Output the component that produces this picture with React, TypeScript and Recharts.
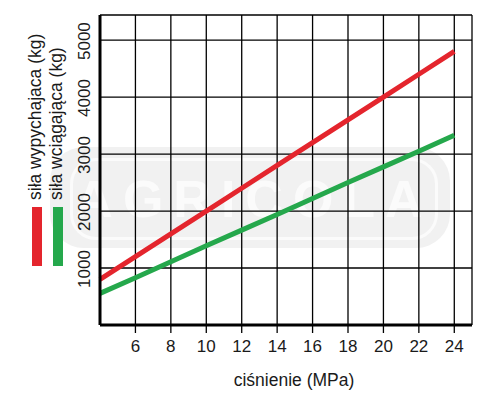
import { LineChart, Line, XAxis, YAxis, CartesianGrid } from 'recharts'

// ciśnienie (MPa)
const pressure = [4, 6, 8, 10, 12, 14, 16, 18, 20, 22, 24]
// siła wypychająca (kg)
const pushForce = [800, 1200, 1600, 2000, 2400, 2800, 3200, 3600, 4000, 4400, 4800]
// siła wciągająca (kg)
const pullForce = [555, 830, 1110, 1390, 1665, 1940, 2220, 2500, 2775, 3050, 3330]

const xTicks = [6, 8, 10, 12, 14, 16, 18, 20, 22, 24]
const yTicks = [1000, 2000, 3000, 4000, 5000]

const data = pressure.map((p, i) => ({ p, push: pushForce[i], pull: pullForce[i] }))

const FONT = '"Liberation Sans", Arial, sans-serif'
const RED = '#e4252d'
const GREEN = '#25a84c'
const INK = '#1a1a1a'

function YTick({ y, payload }: any) {
  return (
    <text
      x={90}
      y={y + 1}
      transform={`rotate(-90, 90, ${y + 1})`}
      textAnchor="middle"
      fontSize={17}
      fill={INK}
      fontFamily={FONT}
    >
      {payload.value}
    </text>
  )
}

export default function App() {
  return (
    <div style={{ position: 'absolute', left: 0, top: 0, width: 500, height: 397, background: '#fff', fontFamily: FONT }}>
      {/* faint watermark */}
      <div
        style={{
          position: 'absolute', left: 50, top: 147, width: 400, height: 101,
          borderRadius: 34, background: '#f1f1f1',
        }}
      >
        <div
          style={{
            position: 'absolute', left: 20, top: 11, width: 362, height: 76,
            borderRadius: 26, border: '3px solid #fbfbfb', color: '#fbfbfb',
            fontSize: 52, fontWeight: 700, letterSpacing: 10, textAlign: 'center',
            lineHeight: '76px', fontFamily: FONT,
          }}
        >
          AGRICOLA
        </div>
      </div>

      <div style={{ position: 'absolute', left: 0, top: 0 }}>
        <LineChart width={500} height={397} data={data} margin={{ top: 15, right: 28, bottom: 0, left: 70 }}>
          <CartesianGrid stroke="#000" strokeWidth={1.3} />
          <XAxis
            dataKey="p"
            type="number"
            domain={[4, 25]}
            ticks={xTicks}
            height={72}
            axisLine={{ stroke: '#000', strokeWidth: 3 }}
            tickLine={{ stroke: '#000', strokeWidth: 1.3 }}
            tickSize={8}
            tickMargin={7}
            tick={{ fontSize: 17, fill: INK, fontFamily: FONT }}
            label={{ value: 'ciśnienie (MPa)', position: 'insideBottom', offset: 11, dx: 8, fontSize: 17.5, fill: INK, fontFamily: FONT }}
          />
          <YAxis
            type="number"
            domain={[0, 5440]}
            ticks={yTicks}
            width={30}
            axisLine={{ stroke: '#000', strokeWidth: 3 }}
            tickLine={false}
            tick={<YTick />}
          />
          <Line dataKey="push" stroke={RED} strokeWidth={5} dot={false} isAnimationActive={false} />
          <Line dataKey="pull" stroke={GREEN} strokeWidth={5} dot={false} isAnimationActive={false} />
        </LineChart>
      </div>

      {/* legend */}
      <svg width={80} height={280} style={{ position: 'absolute', left: 0, top: 0 }}>
        <rect x={32} y={207} width={10} height={59} fill={RED} />
        <rect x={53} y={207} width={10} height={59} fill={GREEN} />
        <text x={41} y={200} transform="rotate(-90, 41, 200)" fontSize={17.5} fill={INK} fontFamily={FONT}>
          siła wypychajaca (kg)
        </text>
        <text x={62} y={200} transform="rotate(-90, 62, 200)" fontSize={17.5} fill={INK} fontFamily={FONT}>
          siła wciągająca (kg)
        </text>
      </svg>
    </div>
  )
}
